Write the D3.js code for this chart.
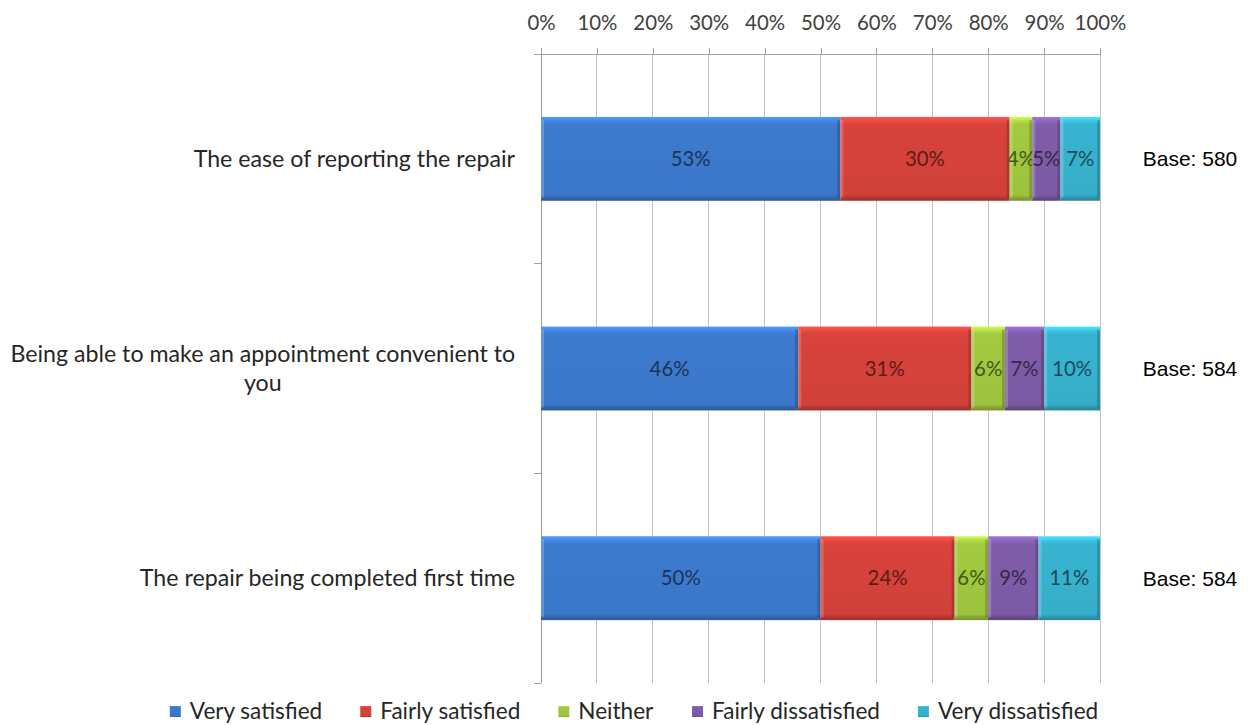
<!DOCTYPE html>
<html>
<head>
<meta charset="utf-8">
<script src="https://cdn.jsdelivr.net/npm/d3@7"></script>
<style>
  html, body { margin: 0; padding: 0; background: #fff; }
  svg { display: block; }
</style>
</head>
<body>
<svg id="chart" width="1253" height="725"></svg>
<script>
// ---------------- DATA ----------------
const categories = [
  "The ease of reporting the repair",
  "Being able to make an appointment convenient to|you",
  "The repair being completed first time"
];
const seriesNames = ["Very satisfied", "Fairly satisfied", "Neither", "Fairly dissatisfied", "Very dissatisfied"];
const verySatisfied      = [53, 46, 50];
const fairlySatisfied    = [30, 31, 24];
const neither            = [4, 6, 6];
const fairlyDissatisfied = [5, 7, 9];
const veryDissatisfied   = [7, 10, 11];
const bases = [580, 584, 584];
const tickValues = [0, 10, 20, 30, 40, 50, 60, 70, 80, 90, 100];
const seriesColors = ["#3D7BCF", "#D8433C", "#A3CA40", "#7F5DAA", "#38B4D0"];

// ---------------- SETUP ----------------
const svg = d3.select("#chart");
const pLeft = 541, pRight = 1100, pTop = 54, pBottom = 683;
const catFont = "Lato, 'Open Sans', sans-serif";

function fitSize(text, family, target) {
  const t = svg.append("text").attr("font-family", family).attr("font-size", 100).text(text);
  const w = t.node().getComputedTextLength();
  t.remove();
  return 100 * target / w;
}
const catSize = fitSize("Being able to make an appointment convenient to", catFont, 505);
const tickSize = fitSize("10%", catFont, 40);
const legSize = fitSize("Fairly dissatisfied", catFont, 168);

const seriesValues = [verySatisfied, fairlySatisfied, neither, fairlyDissatisfied, veryDissatisfied];
const rows = categories.map((c, i) => {
  const r = { cat: c };
  let total = 0;
  seriesNames.forEach((s, j) => { total += seriesValues[j][i]; });
  seriesNames.forEach((s, j) => { r[s] = seriesValues[j][i] / total * 100; r[s + "_label"] = seriesValues[j][i]; });
  return r;
});
const stack = d3.stack().keys(seriesNames)(rows);

const x = d3.scaleLinear().domain([0, 100]).range([pLeft, pRight]);
const y = d3.scaleBand().domain(categories).range([pTop, pBottom]).paddingInner(0.6).paddingOuter(0.3);

// gradients
const defs = svg.append("defs");
seriesNames.forEach((s, i) => {
  const c = d3.color(seriesColors[i]);
  const g = defs.append("linearGradient").attr("id", "g" + i).attr("x1", 0).attr("x2", 0).attr("y1", 0).attr("y2", 1);
  g.append("stop").attr("offset", "0").attr("stop-color", c.brighter(0.7));
  g.append("stop").attr("offset", "0.05").attr("stop-color", c.brighter(0.25));
  g.append("stop").attr("offset", "0.09").attr("stop-color", c);
  g.append("stop").attr("offset", "0.93").attr("stop-color", c.darker(0.1));
  g.append("stop").attr("offset", "0.96").attr("stop-color", c.darker(0.5));
  g.append("stop").attr("offset", "1").attr("stop-color", c.darker(0.9));
});

// gridlines
svg.append("g").selectAll("line").data(tickValues.slice(1)).join("line")
  .attr("x1", d => x(d)).attr("x2", d => x(d))
  .attr("y1", pTop).attr("y2", pBottom)
  .attr("stroke", "#C4C4C4").attr("stroke-width", 1)
  .attr("shape-rendering", "crispEdges");

// top axis
const xAxis = d3.axisTop(x).tickValues(tickValues).tickFormat(d => d + "%").tickSizeInner(6).tickSizeOuter(0).tickPadding(18);
const gx = svg.append("g").attr("transform", `translate(0,${pTop})`).call(xAxis);
gx.select(".domain").attr("stroke", "#9E9E9E").attr("shape-rendering", "crispEdges");
gx.selectAll(".tick line").attr("stroke", "#9E9E9E").attr("shape-rendering", "crispEdges");
gx.selectAll(".tick text").attr("font-family", catFont).attr("font-size", tickSize).attr("fill", "#404040");

// left axis
svg.append("line").attr("x1", pLeft).attr("x2", pLeft).attr("y1", pTop).attr("y2", pBottom)
  .attr("stroke", "#9E9E9E").attr("shape-rendering", "crispEdges");
const boundaries = d3.range(categories.length + 1).map(i => y.range()[0] + i * y.step());
svg.append("g").selectAll("line").data(boundaries).join("line")
  .attr("x1", pLeft - 7).attr("x2", pLeft).attr("y1", d => d).attr("y2", d => d)
  .attr("stroke", "#9E9E9E").attr("shape-rendering", "crispEdges");

// bars
const layers = svg.append("g").selectAll("g").data(stack).join("g");
layers.each(function(layer, li) {
  const g = d3.select(this);
  const c = d3.color(seriesColors[li]);
  const seg = g.selectAll("g").data(layer).join("g");
  seg.append("rect")
    .attr("x", d => x(d[0])).attr("y", d => y(d.data.cat))
    .attr("width", d => x(d[1]) - x(d[0])).attr("height", y.bandwidth())
    .attr("fill", `url(#g${li})`);
  seg.append("rect")
    .attr("x", d => x(d[0])).attr("y", d => y(d.data.cat) + 3)
    .attr("width", 3).attr("height", y.bandwidth() - 6)
    .attr("fill", "#fff").attr("opacity", 0.2);
  seg.append("rect")
    .attr("x", d => x(d[1]) - 3).attr("y", d => y(d.data.cat) + 3)
    .attr("width", 3).attr("height", y.bandwidth() - 6)
    .attr("fill", "#000").attr("opacity", 0.18);
  seg.append("text")
    .attr("x", d => (x(d[0]) + x(d[1])) / 2)
    .attr("y", d => y(d.data.cat) + y.bandwidth() / 2)
    .attr("dy", "0.35em")
    .attr("text-anchor", "middle")
    .attr("font-family", catFont).attr("font-size", tickSize)
    .attr("fill", c.darker(2.4))
    .text(d => d.data[layer.key + "_label"] + "%");
});

// category labels
const catRight = 515;
const lineH = catSize * 1.22;
categories.forEach(c => {
  const lines = c.split("|");
  const t = svg.append("text").attr("font-family", catFont).attr("font-size", catSize).attr("fill", "#262626");
  const spans = lines.map(l => t.append("tspan").text(l));
  const widths = spans.map(s => s.node().getComputedTextLength());
  const wMax = d3.max(widths);
  const cx = catRight - wMax / 2;
  const cy = y(c) + y.bandwidth() / 2;
  const startY = cy - (lines.length - 1) * lineH / 2;
  spans.forEach((s, i) => s.attr("x", cx).attr("y", startY + i * lineH).attr("dy", "0.35em").attr("text-anchor", "middle"));
});

// base labels
svg.append("g").selectAll("text").data(categories).join("text")
  .attr("x", 1190).attr("y", d => y(d) + y.bandwidth() / 2)
  .attr("dy", "0.35em").attr("text-anchor", "middle")
  .attr("font-family", "'Liberation Sans', Arial, sans-serif").attr("font-size", 21).attr("fill", "#000")
  .text((d, i) => "Base: " + bases[i]);

// legend
const legY = 711;
const leg = svg.append("g");
const items = leg.selectAll("g").data(seriesNames).join("g");
items.append("rect").attr("width", 11).attr("height", 11).attr("y", legY - 5)
  .attr("fill", (d, i) => `url(#g${i})`);
items.append("text").attr("x", 20).attr("y", legY).attr("dy", "0.35em")
  .attr("font-family", catFont).attr("font-size", legSize).attr("fill", "#262626")
  .text(d => d);
let xPos = 0;
const gap = 38;
items.each(function() {
  const w = this.getBBox().width;
  d3.select(this).attr("transform", `translate(${xPos},0)`);
  xPos += w + gap;
});
const totalW = xPos - gap;
leg.attr("transform", `translate(${634 - totalW / 2},0)`);
</script>
</body>
</html>
